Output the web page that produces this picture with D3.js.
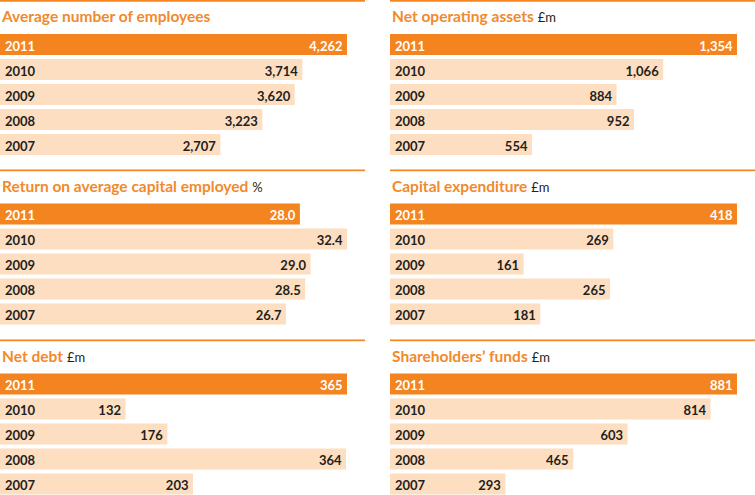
<!DOCTYPE html>
<html>
<head>
<meta charset="utf-8">
<script src="https://cdn.jsdelivr.net/npm/d3@7"></script>
<style>
  html, body { margin: 0; padding: 0; background: #fff; }
  svg { display: block; }
</style>
</head>
<body>
<svg id="chart" width="755" height="495"></svg>
<script>
const years = ["2011", "2010", "2009", "2008", "2007"];
const employees = [4262, 3714, 3620, 3223, 2707];
const netOperatingAssets = [1354, 1066, 884, 952, 554];
const returnOnCapital = [28.0, 32.4, 29.0, 28.5, 26.7];
const capitalExpenditure = [418, 269, 161, 265, 181];
const netDebt = [365, 132, 176, 364, 203];
const shareholdersFunds = [881, 814, 603, 465, 293];

const panels = [
  { title: "Average number of employees", unit: "", values: employees, fmt: d3.format(",") },
  { title: "Net operating assets", unit: "£m", values: netOperatingAssets, fmt: d3.format(",") },
  { title: "Return on average capital employed", unit: "%", values: returnOnCapital, fmt: d3.format(".1f") },
  { title: "Capital expenditure", unit: "£m", values: capitalExpenditure, fmt: d3.format(",") },
  { title: "Net debt", unit: "£m", values: netDebt, fmt: d3.format(",") },
  { title: "Shareholders\u2019 funds", unit: "£m", values: shareholdersFunds, fmt: d3.format(",") }
];

const DARK = "#F3841F", LIGHT = "#FDDEC1", TITLE = "#F18A2C", TEXT = "#231F20";
const svg = d3.select("#chart");
const colX = [0, 390], rowY = [0, 169.5, 339.5];
const FONT = "Lato, 'Open Sans', sans-serif";

panels.forEach((p, i) => {
  const g = svg.append("g")
    .attr("transform", `translate(${colX[i % 2]},${rowY[Math.floor(i / 2)]})`);
  g.append("rect").attr("x", 0).attr("y", 0).attr("width", 365).attr("height", 1.7).attr("fill", DARK);
  const t = g.append("text").attr("x", 2).attr("y", 22)
    .attr("font-family", FONT).attr("font-size", 15.5);
  t.append("tspan").attr("fill", TITLE).attr("font-weight", 700).text(p.title);
  if (p.unit) t.append("tspan").attr("fill", TEXT).attr("font-size", 13).attr("dx", 4).text(p.unit);

  const x = d3.scaleLinear().domain([0, d3.max(p.values)]).range([0, 347]);
  const y = d3.scaleBand().domain(years).range([34, 155]).paddingInner(0.16).paddingOuter(0);
  const data = years.map((yr, k) => ({ yr, v: p.values[k], k }));

  g.selectAll("rect.bar").data(data).join("rect").attr("class", "bar")
    .attr("x", 0).attr("y", d => y(d.yr))
    .attr("width", d => x(d.v)).attr("height", y.bandwidth())
    .attr("fill", d => d.k === 0 ? DARK : LIGHT);
  g.selectAll("text.yr").data(data).join("text").attr("class", "yr")
    .attr("x", 5).attr("y", d => y(d.yr) + 16.5)
    .attr("font-family", FONT).attr("font-size", 13).attr("font-weight", 700)
    .attr("fill", d => d.k === 0 ? "#fff" : TEXT).text(d => d.yr);
  g.selectAll("text.val").data(data).join("text").attr("class", "val")
    .attr("x", d => x(d.v) - 4.5).attr("y", d => y(d.yr) + 16.5)
    .attr("text-anchor", "end")
    .attr("font-family", FONT).attr("font-size", 13).attr("font-weight", 700)
    .attr("fill", d => d.k === 0 ? "#fff" : TEXT).text(d => p.fmt(d.v));
});
</script>
</body>
</html>
